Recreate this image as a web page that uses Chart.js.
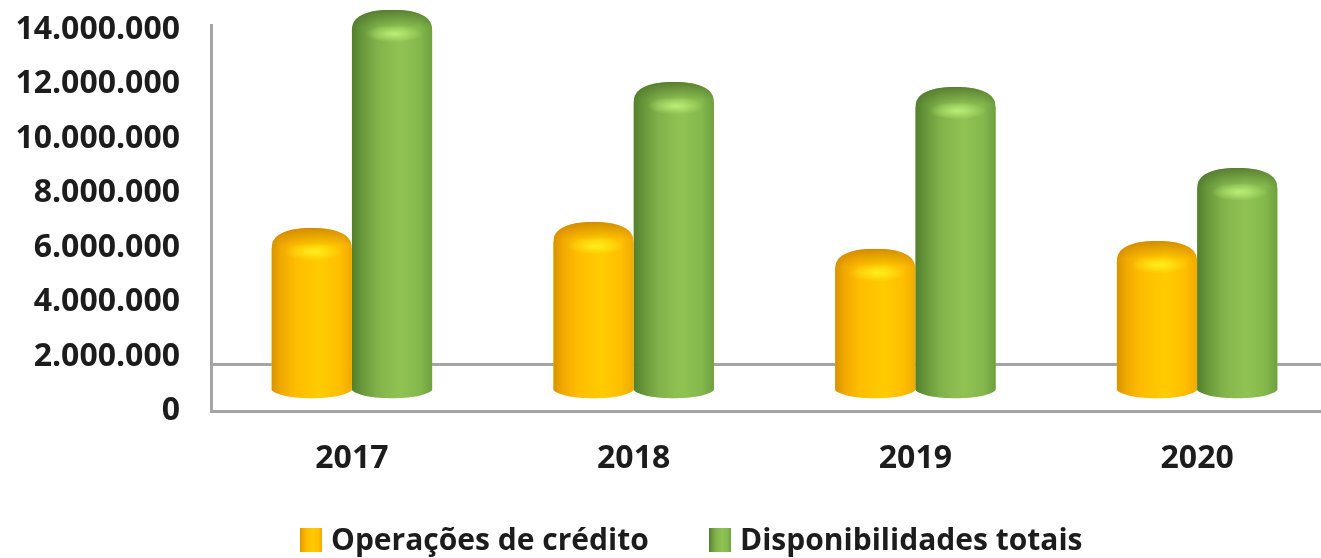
<!DOCTYPE html>
<html lang="pt-BR">
<head>
<meta charset="utf-8">
<title>Operações de crédito e disponibilidades</title>
<script src="https://cdn.jsdelivr.net/npm/chart.js@4"></script>
<style>
    html, body { margin: 0; padding: 0; background: #fff; overflow: hidden; }
    canvas { display: block; }
</style>
</head>
<body>
<canvas id="grafico" width="1380" height="558"></canvas>
<script>
const anos = ["2017", "2018", "2019", "2020"];
const operacoesCredito = [5220000, 5440000, 4450000, 4740000];
const disponibilidades = [13230000, 10580000, 10400000, 7420000];
const ticksEixo = [0, 2000000, 4000000, 6000000, 8000000, 10000000, 12000000, 14000000];
const eixoMax = 14180000;
const linhaFundo = 1710000;   // linha do piso do grafico 3D
const deslocBarras = 772000;  // a base das barras fica acima do zero do eixo

const tinta = "#1c1c1c";
const cinza = "#a5a5a5";
const fonte = '"Open Sans", sans-serif';

function gradienteHorizontal(ctx, x0, x1, stops) {
    const g = ctx.createLinearGradient(x0, 0, x1, 0);
    stops.forEach(s => g.addColorStop(s[0], s[1]));
    return g;
}

const estilos = [
    {
        corpo: [[0, "#d89300"], [0.12, "#f0aa00"], [0.3, "#ffbc00"], [0.6, "#ffcc00"], [0.85, "#ffbe00"], [1, "#f0aa00"]],
        brilho: "rgba(255,240,30,0.95)",
        topo: "rgba(200,125,0,0.8)"
    },
    {
        corpo: [[0, "#537f2e"], [0.12, "#669639"], [0.32, "#82b34b"], [0.6, "#90c353"], [0.85, "#84b84c"], [1, "#6f9f3f"]],
        brilho: "rgba(190,240,120,0.95)",
        topo: "rgba(75,110,42,0.8)"
    }
];

function desenharCilindro(ctx, barra, estilo) {
    const w = barra.width;
    const esq = barra.x - w / 2;
    const dir = barra.x + w / 2;
    const yv = barra.y;
    const base = barra.base;
    const topo = yv - 20;

    ctx.save();
    ctx.beginPath();
    ctx.moveTo(esq, base);
    ctx.lineTo(esq, yv);
    ctx.bezierCurveTo(esq, yv - 13, barra.x - w * 0.33, topo, barra.x, topo);
    ctx.bezierCurveTo(barra.x + w * 0.33, topo, dir, yv - 13, dir, yv);
    ctx.lineTo(dir, base);
    ctx.bezierCurveTo(dir - w * 0.12, base + 11, esq + w * 0.12, base + 11, esq, base);
    ctx.closePath();
    ctx.clip();

    ctx.fillStyle = gradienteHorizontal(ctx, esq, dir, estilo.corpo);
    ctx.fillRect(esq, topo, w, base + 12 - topo);

    // face de cima, mais escura
    const sombra = ctx.createLinearGradient(0, topo, 0, topo + 18);
    sombra.addColorStop(0, estilo.topo);
    sombra.addColorStop(1, estilo.topo.replace(/[\d.]+\)$/, "0)"));
    ctx.fillStyle = sombra;
    ctx.fillRect(esq, topo, w, 18);

    // brilho logo abaixo da face de cima
    ctx.translate(barra.x + 2, yv + 4);
    ctx.scale(1, 0.3);
    const brilho = ctx.createRadialGradient(0, 0, 0, 0, 0, w * 0.36);
    brilho.addColorStop(0, estilo.brilho);
    brilho.addColorStop(1, estilo.brilho.replace(/[\d.]+\)$/, "0)"));
    ctx.fillStyle = brilho;
    ctx.fillRect(-w, -w, w * 2, w * 2);
    ctx.restore();
}

const cilindros = {
    id: "cilindros",
    beforeDatasetsDraw(chart) {
        const { ctx, chartArea, scales } = chart;
        const y = scales.y.getPixelForValue(linhaFundo);
        ctx.save();
        ctx.strokeStyle = cinza;
        ctx.lineWidth = 3;
        ctx.beginPath();
        ctx.moveTo(chartArea.left, y);
        ctx.lineTo(chartArea.right, y);
        ctx.stroke();
        ctx.restore();
    },
    afterDatasetsDraw(chart) {
        // laranja primeiro, verde por cima
        chart.data.datasets.forEach((ds, i) => {
            chart.getDatasetMeta(i).data.forEach(barra => {
                desenharCilindro(chart.ctx, barra, estilos[i]);
            });
        });
    }
};

// legenda propria: o espaco entre os itens do plugin padrao muda a altura tambem
const legendaPos = [{ caixa: 300, texto: 331 }, { caixa: 709, texto: 740 }];
const legenda = {
    id: "legenda",
    afterDraw(chart) {
        const ctx = chart.ctx;
        ctx.save();
        ctx.font = 'bold 30px ' + fonte;
        ctx.textBaseline = "alphabetic";
        chart.data.datasets.forEach((ds, i) => {
            const p = legendaPos[i];
            ctx.fillStyle = gradienteHorizontal(ctx, p.caixa, p.caixa + 22, estilos[i].corpo);
            ctx.fillRect(p.caixa, 528, 22, 24);
            ctx.fillStyle = tinta;
            ctx.fillText(ds.label, p.texto, 550);
        });
        ctx.restore();
    }
};

new Chart(document.getElementById("grafico").getContext("2d"), {
    type: "bar",
    data: {
        labels: anos,
        datasets: [
            { label: "Operações de crédito", data: operacoesCredito, backgroundColor: "#ffc000", yAxisID: "yBarras" },
            { label: "Disponibilidades totais", data: disponibilidades, backgroundColor: "#8cbf50", yAxisID: "yBarras" }
        ]
    },
    options: {
        responsive: false,
        animation: false,
        barPercentage: 1,
        categoryPercentage: 0.57,
        layout: { padding: { top: 25, bottom: 68, left: 0, right: 42 } },
        plugins: {
            tooltip: { enabled: false },
            legend: { display: false }
        },
        scales: {
            x: {
                grid: { display: false, drawTicks: false },
                border: { display: true, color: cinza, width: 3 },
                ticks: {
                    color: tinta,
                    padding: 29,
                    maxRotation: 0,
                    font: { family: fonte, size: 32, weight: "bold" }
                },
                afterFit: scale => { scale.height = 79; }
            },
            y: {
                min: 0,
                max: eixoMax,
                grid: { display: false, drawTicks: false },
                border: { display: true, color: cinza, width: 3 },
                afterBuildTicks: scale => { scale.ticks = ticksEixo.map(v => ({ value: v })); },
                ticks: {
                    color: tinta,
                    padding: 31,
                    font: { family: fonte, size: 32, weight: "bold" },
                    callback: v => String(v).replace(/\B(?=(\d{3})+(?!\d))/g, ".")
                },
                afterFit: scale => {
                    scale.width = 211;
                    scale.paddingTop = 0;
                    scale.paddingBottom = 0;
                }
            },
            yBarras: {
                display: false,
                bounds: "data",
                min: -deslocBarras,
                max: eixoMax - deslocBarras
            }
        }
    },
    plugins: [cilindros, legenda]
});
</script>
</body>
</html>
